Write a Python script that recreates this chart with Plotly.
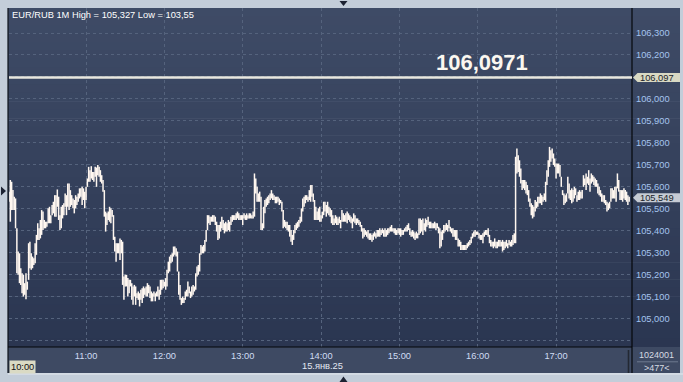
import plotly.graph_objects as go
import pandas as pd

W, H = 683, 382

TITLE = "EUR/RUB 1M High = 105,327 Low = 103,55"
START = "2025-01-15 10:01"
DATE_LABEL = "15.янв.25"
CURSOR_TIME = "10:00"
VOLUME = "1024001"
COUNT = ">477<"
LEVEL = 106.097
LEVEL_LABEL = "106,0971"
LAST_PRICE = 105.549

HOUR_TICKS = ["11:00", "12:00", "13:00", "14:00", "15:00", "16:00", "17:00"]
PRICE_TICKS = [104.9, 105.0, 105.1, 105.2, 105.3, 105.4, 105.5, 105.6,
               105.7, 105.8, 105.9, 106.0, 106.1, 106.2, 106.3]
HIDDEN_TICKS = [104.9, 106.1]   # gridline only (label covered / clipped in the original)

# one-minute bar highs / lows (10:01 ... 17:56)
HIGHS = [
    105.577, 105.630, 105.622, 105.584, 105.554, 105.546, 105.410, 105.304, 105.296, 105.228,
    105.205, 105.198, 105.160, 105.205, 105.167, 105.342, 105.349, 105.296, 105.281, 105.273,
    105.342, 105.380, 105.433, 105.410, 105.448, 105.493, 105.486, 105.448, 105.440, 105.440,
    105.501, 105.508, 105.470, 105.516, 105.531, 105.561, 105.561,
    105.587, 105.554, 105.470, 105.508, 105.516, 105.524, 105.569, 105.561, 105.614, 105.614,
    105.584, 105.561, 105.546, 105.539, 105.561, 105.554, 105.569, 105.592, 105.592, 105.599,
    105.592, 105.577, 105.599, 105.637, 105.690, 105.675, 105.693, 105.667, 105.667, 105.690,
    105.687, 105.698, 105.690, 105.675, 105.652, 105.630, 105.584, 105.486, 105.478, 105.486,
    105.508, 105.501, 105.493, 105.470, 105.372, 105.342, 105.342, 105.342,
    105.364, 105.357, 105.349, 105.190, 105.198, 105.198, 105.183, 105.175, 105.175, 105.160,
    105.145, 105.152, 105.145, 105.114, 105.122, 105.114, 105.130, 105.137, 105.145, 105.137,
    105.145, 105.160, 105.152, 105.145, 105.122, 105.114, 105.122, 105.114, 105.122, 105.145,
    105.130, 105.175, 105.175, 105.175, 105.167, 105.183,
    105.221,
    105.258, 105.281, 105.289, 105.296, 105.327, 105.327, 105.319, 105.304, 105.213, 105.152,
    105.092, 105.099, 105.092, 105.122, 105.130, 105.167, 105.145, 105.122, 105.145, 105.152,
    105.145, 105.205, 105.236, 105.243, 105.296, 105.334, 105.327, 105.334, 105.357, 105.402,
    105.470, 105.470, 105.463, 105.463, 105.470, 105.470,
    105.463, 105.440, 105.425, 105.425, 105.440, 105.463, 105.448, 105.433, 105.440, 105.433,
    105.448, 105.440, 105.463, 105.470, 105.470, 105.470, 105.478, 105.486, 105.478, 105.470,
    105.470, 105.470, 105.478, 105.470, 105.478, 105.470, 105.478, 105.478, 105.470, 105.486,
    105.660, 105.637, 105.599, 105.569, 105.577, 105.554, 105.433, 105.508, 105.539, 105.546,
    105.554, 105.561, 105.569, 105.584, 105.569, 105.561, 105.554, 105.554,
    105.554, 105.546, 105.539, 105.531, 105.493, 105.448, 105.440, 105.440, 105.425, 105.425,
    105.402, 105.380, 105.402, 105.425, 105.433, 105.440, 105.448, 105.463, 105.501, 105.546,
    105.554, 105.561, 105.561, 105.554, 105.584, 105.607, 105.607, 105.569, 105.539, 105.508,
    105.486, 105.501, 105.508, 105.470,
    105.486, 105.531, 105.531, 105.516, 105.531, 105.508, 105.501, 105.493, 105.470, 105.455,
    105.470, 105.463, 105.455, 105.463, 105.448, 105.493, 105.478, 105.470, 105.478, 105.486,
    105.478, 105.470, 105.463, 105.455, 105.478, 105.470, 105.455, 105.455, 105.448, 105.440,
    105.425, 105.410, 105.410, 105.402, 105.395, 105.402, 105.387, 105.387,
    105.380, 105.387, 105.395, 105.387, 105.402, 105.402, 105.410, 105.402, 105.410, 105.402,
    105.410, 105.402, 105.410, 105.410, 105.417, 105.425, 105.410, 105.410, 105.410, 105.402,
    105.410, 105.410, 105.410, 105.402, 105.402, 105.410, 105.417, 105.425, 105.433, 105.410,
    105.395, 105.402, 105.395, 105.387, 105.395, 105.387, 105.455, 105.455, 105.448, 105.455,
    105.433, 105.455, 105.448, 105.463, 105.440, 105.440, 105.433, 105.433,
    105.440, 105.433, 105.433, 105.417, 105.410, 105.395, 105.402, 105.425, 105.425, 105.433,
    105.425, 105.448, 105.417, 105.410, 105.410, 105.402, 105.402, 105.402, 105.364, 105.357,
    105.349, 105.334, 105.334, 105.334, 105.334, 105.342, 105.349, 105.357, 105.372, 105.387,
    105.395, 105.402, 105.395, 105.395,
    105.387, 105.380, 105.380, 105.387, 105.395, 105.402, 105.402, 105.410, 105.380, 105.357,
    105.349, 105.349, 105.364, 105.349, 105.349,
    105.357, 105.357, 105.349, 105.357, 105.349, 105.349, 105.357, 105.342, 105.357, 105.349,
    105.357, 105.380, 105.387, 105.736, 105.774, 105.743, 105.720, 105.683, 105.630, 105.630,
    105.630, 105.622, 105.607, 105.584, 105.546, 105.524, 105.516, 105.508, 105.539, 105.531,
    105.554, 105.554, 105.569, 105.561, 105.554, 105.569, 105.622, 105.675, 105.720, 105.781,
    105.766, 105.774, 105.751, 105.728, 105.705, 105.705, 105.705,
    105.698, 105.645, 105.584, 105.569, 105.561, 105.569, 105.645, 105.614, 105.584, 105.592,
    105.584, 105.599, 105.592, 105.561, 105.577, 105.584, 105.577, 105.584, 105.652, 105.637,
    105.660, 105.645, 105.675, 105.637, 105.660, 105.652, 105.645, 105.637, 105.630, 105.614,
    105.599, 105.584, 105.569, 105.561, 105.561, 105.539, 105.531, 105.524, 105.531, 105.592,
    105.592, 105.584, 105.599, 105.599, 105.660, 105.630, 105.584, 105.584,
    105.584, 105.592, 105.584, 105.577, 105.561, 105.554,
]

LOWS = [
    105.531, 105.440, 105.493, 105.493, 105.493, 105.410, 105.205, 105.198, 105.160, 105.152,
    105.114, 105.099, 105.107, 105.087, 105.130, 105.175, 105.228, 105.221, 105.228, 105.243,
    105.251, 105.289, 105.357, 105.357, 105.364, 105.380, 105.402, 105.410, 105.410, 105.417,
    105.433, 105.433, 105.433, 105.470, 105.478, 105.463, 105.463,
    105.508, 105.448, 105.402, 105.410, 105.455, 105.470, 105.508, 105.470, 105.508, 105.493,
    105.508, 105.516, 105.501, 105.478, 105.501, 105.516, 105.531, 105.546, 105.554, 105.516,
    105.539, 105.501, 105.539, 105.599, 105.622, 105.622, 105.637, 105.630, 105.622, 105.645,
    105.599, 105.652, 105.645, 105.622, 105.614, 105.577, 105.463, 105.395, 105.425, 105.448,
    105.440, 105.433, 105.463, 105.357, 105.304, 105.258, 105.296, 105.296,
    105.266, 105.296, 105.152, 105.084, 105.145, 105.145, 105.099, 105.114, 105.145, 105.084,
    105.061, 105.099, 105.061, 105.092, 105.084, 105.054, 105.084, 105.069, 105.092, 105.107,
    105.099, 105.099, 105.114, 105.092, 105.077, 105.077, 105.099, 105.077, 105.099, 105.099,
    105.084, 105.107, 105.130, 105.137, 105.145, 105.130,
    105.145,
    105.205, 105.213, 105.251, 105.258, 105.281, 105.289, 105.281, 105.213, 105.107, 105.084,
    105.061, 105.069, 105.069, 105.084, 105.099, 105.099, 105.114, 105.092, 105.099, 105.107,
    105.122, 105.130, 105.190, 105.198, 105.213, 105.289, 105.296, 105.296, 105.304, 105.349,
    105.402, 105.433, 105.425, 105.440, 105.440, 105.440,
    105.425, 105.395, 105.357, 105.364, 105.395, 105.410, 105.402, 105.387, 105.395, 105.395,
    105.402, 105.395, 105.425, 105.440, 105.448, 105.448, 105.448, 105.455, 105.448, 105.448,
    105.448, 105.425, 105.455, 105.448, 105.448, 105.455, 105.455, 105.455, 105.455, 105.455,
    105.463, 105.569, 105.531, 105.531, 105.531, 105.402, 105.402, 105.410, 105.478, 105.508,
    105.516, 105.524, 105.539, 105.546, 105.539, 105.539, 105.524, 105.524,
    105.531, 105.516, 105.524, 105.486, 105.410, 105.417, 105.410, 105.402, 105.395, 105.372,
    105.349, 105.334, 105.357, 105.387, 105.402, 105.410, 105.417, 105.433, 105.440, 105.486,
    105.508, 105.524, 105.539, 105.531, 105.539, 105.531, 105.554, 105.531, 105.448, 105.448,
    105.448, 105.448, 105.440, 105.440,
    105.455, 105.470, 105.486, 105.463, 105.478, 105.470, 105.463, 105.433, 105.425, 105.425,
    105.433, 105.425, 105.425, 105.433, 105.410, 105.440, 105.440, 105.440, 105.440, 105.433,
    105.448, 105.440, 105.433, 105.410, 105.440, 105.433, 105.425, 105.433, 105.425, 105.417,
    105.395, 105.364, 105.372, 105.380, 105.372, 105.364, 105.357, 105.357,
    105.349, 105.357, 105.372, 105.364, 105.372, 105.372, 105.372, 105.380, 105.387, 105.372,
    105.372, 105.372, 105.380, 105.387, 105.395, 105.395, 105.395, 105.387, 105.380, 105.380,
    105.387, 105.380, 105.372, 105.380, 105.380, 105.395, 105.395, 105.395, 105.402, 105.380,
    105.372, 105.372, 105.364, 105.357, 105.364, 105.364, 105.380, 105.387, 105.395, 105.380,
    105.402, 105.395, 105.417, 105.425, 105.410, 105.410, 105.410, 105.410,
    105.410, 105.402, 105.410, 105.387, 105.319, 105.327, 105.357, 105.387, 105.395, 105.402,
    105.395, 105.410, 105.395, 105.387, 105.372, 105.372, 105.357, 105.357, 105.327, 105.327,
    105.311, 105.311, 105.311, 105.311, 105.311, 105.319, 105.327, 105.334, 105.342, 105.364,
    105.372, 105.372, 105.380, 105.380,
    105.364, 105.357, 105.357, 105.342, 105.372, 105.380, 105.380, 105.372, 105.342, 105.327,
    105.327, 105.319, 105.327, 105.319, 105.319,
    105.327, 105.327, 105.327, 105.304, 105.311, 105.319, 105.327, 105.319, 105.334, 105.327,
    105.327, 105.334, 105.342, 105.342, 105.660, 105.667, 105.645, 105.614, 105.584, 105.592,
    105.584, 105.569, 105.561, 105.531, 105.508, 105.470, 105.455, 105.463, 105.486, 105.501,
    105.508, 105.524, 105.524, 105.516, 105.531, 105.539, 105.531, 105.607, 105.645, 105.690,
    105.713, 105.728, 105.698, 105.690, 105.637, 105.660, 105.660,
    105.645, 105.599, 105.561, 105.516, 105.524, 105.531, 105.569, 105.546, 105.539, 105.524,
    105.531, 105.546, 105.561, 105.531, 105.539, 105.539, 105.546, 105.546, 105.599, 105.607,
    105.584, 105.614, 105.607, 105.577, 105.614, 105.622, 105.607, 105.599, 105.599, 105.569,
    105.561, 105.554, 105.531, 105.531, 105.524, 105.516, 105.486, 105.493, 105.501, 105.531,
    105.546, 105.546, 105.546, 105.531, 105.592, 105.577, 105.539, 105.539,
    105.531, 105.546, 105.539, 105.531, 105.516, 105.531,
]

assert len(HIGHS) == len(LOWS)

FONT = "Liberation Sans, Arial, sans-serif"
FRAME = "#c3cdd9"
BAR_COLOR = "#fff7f0"
GRID = "#55637d"

times = pd.date_range(START, periods=len(HIGHS), freq="min")
day = times[0].strftime("%Y-%m-%d")

xs, ys = [], []
for t, hi, lo in zip(times, HIGHS, LOWS):
    s = t.strftime("%Y-%m-%d %H:%M:%S")
    xs += [s, s, None]
    ys += [lo, hi, None]


def px(x):
    return x / W


def py(y):
    return 1 - y / H


fig = go.Figure()
fig.add_trace(go.Scatter(x=xs, y=ys, mode="lines",
                         line=dict(color=BAR_COLOR, width=1.5),
                         connectgaps=False, hoverinfo="skip", showlegend=False))

shapes = []
# vertical gradient background of plot + price scale
top_rgb = (62, 75, 102)
bot_rgb = (43, 54, 81)
N = 40
y0, y1 = 8, 347
for i in range(N):
    f = i / (N - 1)
    c = tuple(round(top_rgb[k] + (bot_rgb[k] - top_rgb[k]) * f) for k in range(3))
    ya = y0 + (y1 - y0) * i / N
    yb = y0 + (y1 - y0) * (i + 1) / N + 0.6
    shapes.append(dict(type="rect", xref="paper", yref="paper", layer="below",
                       x0=px(8), x1=px(680), y0=py(min(yb, y1)), y1=py(ya),
                       fillcolor="rgb(%d,%d,%d)" % c, line=dict(width=0)))
# time axis band
shapes.append(dict(type="rect", xref="paper", yref="paper", layer="below",
                   x0=px(8), x1=px(680), y0=py(373), y1=py(347),
                   fillcolor="#3e4a63", line=dict(width=0)))
# frame lines
line_specs = [
    (8, 8, 8, 373, "#0d1119", 1.2),
    (632, 8, 632, 373, "#05070b", 1.2),
    (8, 347, 632, 347, "#05070b", 1.2),
    (628.5, 350, 628.5, 373, "#232833", 1.6),
    (637, 361.8, 678, 361.8, "#7b869a", 0.8),
    (8, 374, 683, 374, "#e3e8ee", 1),
]
for xa, ya, xb, yb, col, wd in line_specs:
    shapes.append(dict(type="line", xref="paper", yref="paper", layer="above",
                       x0=px(xa), y0=py(ya), x1=px(xb), y1=py(yb),
                       line=dict(color=col, width=wd)))

# level line
shapes.append(dict(type="line", xref="paper", yref="y", layer="above",
                   x0=px(9), x1=px(632), y0=LEVEL, y1=LEVEL,
                   line=dict(color="#e9e7df", width=2.6)))


def tag_path(value, half=0.0205):
    return ("M %f,%f L %f,%f L %f,%f L %f,%f L %f,%f Z" %
            (px(633), value, px(637.5), value + half, px(680), value + half,
             px(680), value - half, px(637.5), value - half))


shapes.append(dict(type="path", xref="paper", yref="y", layer="above",
                   path=tag_path(LEVEL), fillcolor="#d9d9c3", line=dict(width=0)))
shapes.append(dict(type="path", xref="paper", yref="y", layer="above",
                   path=tag_path(LAST_PRICE), fillcolor="#c6cbd4", line=dict(width=0)))


def tri(points):
    p = " L ".join("%f,%f" % (px(a), py(b)) for a, b in points)
    return "M " + p + " Z"


for pts in ([(339.5, 1), (347.5, 1), (343.5, 6)],
            [(339.5, 382), (347.5, 382), (343.5, 376.5)],
            [(1, 186.5), (1, 195.5), (6, 191)]):
    shapes.append(dict(type="path", xref="paper", yref="paper", layer="above",
                       path=tri(pts), fillcolor="#1c2232", line=dict(width=0)))

annotations = [
    dict(text=TITLE, x=px(10), y=py(15), xanchor="left", yanchor="middle",
         font=dict(family=FONT, size=9.3, color="#ffffff")),
    dict(text="<b>%s</b>" % LEVEL_LABEL, x=px(481.5), y=py(63), xanchor="center",
         yanchor="middle", font=dict(family=FONT, size=22, color="#fbf7f0")),
    dict(text=f"{LEVEL:.3f}".replace(".", ","), x=px(637.5), y=LEVEL, yref="y",
         xanchor="left", yanchor="middle",
         font=dict(family=FONT, size=9.3, color="#1a1e28")),
    dict(text=f"{LAST_PRICE:.3f}".replace(".", ","), x=px(637.5), y=LAST_PRICE, yref="y",
         xanchor="left", yanchor="middle",
         font=dict(family=FONT, size=9.3, color="#1a1e28")),
    dict(text=DATE_LABEL, x=px(322), y=py(366), xanchor="center", yanchor="middle",
         font=dict(family=FONT, size=9.3, color="#e2e8f3")),
    dict(text=CURSOR_TIME, x=px(8.5), y=py(367), xanchor="left", yanchor="middle",
         bgcolor="#dadac4", borderpad=1,
         font=dict(family=FONT, size=9.3, color="#101010")),
    dict(text=VOLUME, x=px(656.5), y=py(355), xanchor="center", yanchor="middle",
         font=dict(family=FONT, size=9, color="#d6dae2")),
    dict(text=COUNT, x=px(656.5), y=py(368), xanchor="center", yanchor="middle",
         font=dict(family=FONT, size=9, color="#d6dae2")),
]
for a in annotations:
    a.setdefault("xref", "paper")
    a.setdefault("yref", "paper")
    a["showarrow"] = False

x_tickvals = [f"{day} {h}" for h in HOUR_TICKS]
y_ticktext = ["" if v in HIDDEN_TICKS else f"{v:.3f}".replace(".", ",") for v in PRICE_TICKS]

fig.update_layout(
    width=W, height=H, margin=dict(l=0, r=0, t=0, b=0),
    paper_bgcolor=FRAME, plot_bgcolor="rgba(0,0,0,0)",
    showlegend=False, hovermode=False,
    shapes=shapes, annotations=annotations,
    xaxis=dict(type="date", domain=[px(9), px(632)],
               range=[f"{day} 10:00:59", f"{day} 17:58:10"],
               tickvals=x_tickvals, ticktext=HOUR_TICKS, ticks="",
               ticklabelstandoff=2,
               tickfont=dict(family=FONT, size=9.3, color="#cfdcf3"),
               showgrid=True, gridcolor=GRID, griddash="3px,3px", gridwidth=1,
               showline=False, zeroline=False, fixedrange=True),
    yaxis=dict(side="right", domain=[py(347), py(8)],
               range=[104.869, 106.414],
               tickvals=PRICE_TICKS, ticktext=y_ticktext, ticks="",
               ticklabelstandoff=3,
               tickfont=dict(family=FONT, size=9.3, color="#a5c4ee"),
               showgrid=True, gridcolor=GRID, griddash="3px,3px", gridwidth=1,
               showline=False, zeroline=False, fixedrange=True),
)

fig.write_html("out.html")
